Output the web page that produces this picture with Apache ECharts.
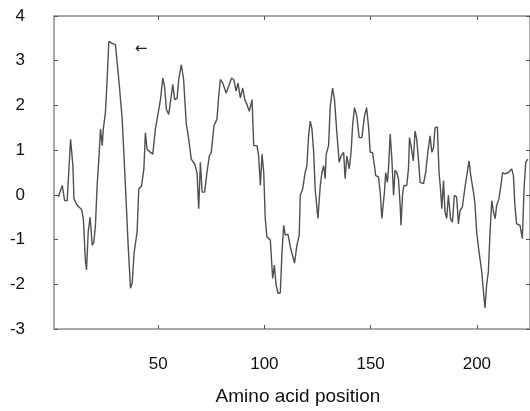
<!DOCTYPE html>
<html>
<head>
<meta charset="utf-8">
<script src="https://cdn.jsdelivr.net/npm/echarts@6/dist/echarts.min.js"></script>
<style>html,body{margin:0;padding:0;background:#fff}#c{width:530px;height:411px}</style>
</head>
<body>
<div id="c"></div>
<script>
// Amino acid positions (x) and hydropathy values (y)
const positions = [3.0,4.9,6.0,7.2,8.8,9.9,10.4,12.0,14.0,14.8,15.8,16.3,17.1,18.0,19.0,19.8,20.5,21.3,22.1,22.9,23.7,24.2,25.2,26.0,26.8,28.4,29.9,31.5,33.1,34.6,35.9,37.0,37.8,38.7,40.1,40.9,42.2,43.3,44.0,44.8,46.4,47.5,48.7,49.5,50.3,51.1,52.2,53.0,53.9,55.0,55.8,56.9,57.8,58.9,59.7,60.9,62.0,63.2,64.4,65.6,67.2,68.3,69.1,69.9,70.7,71.9,73.0,74.1,75.0,76.3,76.9,77.7,78.5,79.3,80.4,82.0,83.2,84.5,85.6,86.7,87.6,88.7,89.8,90.8,91.8,92.9,94.2,95.0,96.5,97.3,98.1,98.9,99.7,100.4,101.2,102.8,103.9,104.7,105.5,106.4,107.5,108.3,109.1,109.8,111.1,112.2,113.0,114.2,115.3,116.4,116.9,118.0,119.2,120.0,120.8,121.6,122.4,123.2,123.9,125.2,126.3,127.1,127.9,128.6,129.1,130.2,131.0,132.1,133.0,134.1,135.2,136.1,137.3,138.0,138.8,139.9,140.8,141.5,142.4,143.5,144.6,145.9,147.1,148.1,149.0,149.8,150.9,151.8,152.4,153.7,154.5,155.3,156.5,157.1,157.9,158.4,159.2,160.0,160.8,161.5,162.3,163.1,163.9,164.3,165.0,165.6,167.0,167.8,168.3,169.0,170.1,170.9,171.7,172.5,173.3,174.9,175.9,176.9,178.0,178.8,179.6,180.3,181.4,182.2,183.0,183.5,184.3,185.0,185.8,186.6,187.6,188.5,189.4,190.5,191.3,192.1,193.2,194.4,195.2,196.3,197.2,198.4,199.1,199.9,201.0,202.3,203.1,203.8,204.6,205.4,206.2,207.0,207.8,208.6,209.3,210.4,211.3,212.1,213.2,214.8,216.4,217.2,217.9,218.7,220.3,221.4,222.2,223.0,224.0];
const hydropathy = [-0.05,0.21,-0.13,-0.13,1.24,0.65,-0.09,-0.24,-0.33,-0.53,-1.49,-1.68,-0.83,-0.5,-1.13,-1.05,-0.68,0.21,0.8,1.47,1.1,1.47,1.84,2.58,3.43,3.39,3.36,2.58,1.69,0.21,-1.13,-2.09,-1.97,-1.3,-0.83,0.13,0.2,0.58,1.39,1.02,0.95,0.91,1.47,1.69,1.66,2.13,2.61,2.43,1.91,1.8,1.84,2.47,2.13,2.16,2.58,2.91,2.58,1.61,1.24,0.8,0.69,0.5,-0.31,0.73,0.06,0.06,0.51,0.87,0.95,1.55,1.61,1.69,2.21,2.58,2.5,2.28,2.43,2.61,2.58,2.32,2.5,2.17,2.39,2.13,2.02,1.87,2.13,1.1,1.1,0.87,0.21,0.91,0.5,-0.53,-0.94,-1.01,-1.87,-1.57,-2.01,-2.2,-2.19,-1.27,-0.68,-0.9,-0.88,-1.16,-1.2,-1.53,-1.13,-0.9,-0.01,0.13,0.5,0.65,1.32,1.65,1.47,0.95,0.13,-0.53,0.21,0.5,0.65,0.36,0.91,1.1,1.98,2.39,2.13,1.39,0.73,0.87,0.95,0.36,0.87,0.58,0.95,1.54,1.95,1.76,1.28,1.28,1.76,1.95,1.54,0.95,0.95,0.65,0.43,0.4,0.06,-0.53,0.06,0.5,0.28,0.58,1.36,0.8,-0.01,0.55,0.5,0.36,-0.24,-0.68,-0.01,0.21,0.21,0.58,1.28,1.1,0.76,1.43,1.24,0.8,0.28,0.25,0.5,0.95,1.32,0.95,1.06,1.5,1.52,0.5,0.06,-0.31,0.32,-0.38,-0.53,-0.01,-0.53,-0.61,-0.01,-0.05,-0.65,-0.35,-0.27,0.17,0.17,0.76,0.4,0.06,-0.2,-0.83,-1.27,-1.72,-2.16,-2.53,-2.01,-1.72,-0.83,-0.13,-0.38,-0.53,-0.24,-0.09,0.21,0.5,0.47,0.5,0.58,0.43,-0.24,-0.65,-0.68,-0.98,0.13,0.73,0.8];
const xTicks = [50, 100, 150, 200];
const yTicks = [-3, -2, -1, 0, 1, 2, 3, 4];
const xTitle = 'Amino acid position';
const arrowLabel = '←';
const arrowAt = [42, 3.26];

const points = positions.map((p, i) => [p, hydropathy[i]]);
const axisGray = '#8c8c8c';
const font = 'Liberation Sans, Arial, Helvetica, sans-serif';

const chart = echarts.init(document.getElementById('c'), null, {renderer: 'canvas'});
chart.setOption({
  animation: false,
  backgroundColor: '#fff',
  grid: {left: 54, right: 0, top: 16, bottom: 79.5, containLabel: false},
  xAxis: [{
    type: 'value', min: 1, max: 225, position: 'bottom',
    name: xTitle, nameLocation: 'middle', nameGap: 58,
    nameTextStyle: {fontFamily: font, fontSize: 19, color: '#111', padding: [0, 0, 0, 12]},
    axisLine: {show: true, onZero: false, lineStyle: {color: axisGray, width: 1.5}},
    axisTick: {show: true, inside: true, length: 4, customValues: xTicks, lineStyle: {color: '#555'}},
    axisLabel: {customValues: xTicks, margin: 27, fontFamily: font, fontSize: 17, color: '#111'},
    splitLine: {show: false}
  }, {
    type: 'value', min: 1, max: 225, position: 'top',
    axisLine: {show: true, onZero: false, lineStyle: {color: axisGray, width: 1.5}},
    axisTick: {show: true, inside: true, length: 4, customValues: xTicks, lineStyle: {color: '#555'}},
    axisLabel: {show: false},
    splitLine: {show: false}
  }],
  yAxis: [{
    type: 'value', min: -3, max: 4, interval: 1, position: 'left',
    axisLine: {show: true, onZero: false, lineStyle: {color: axisGray, width: 1.5}},
    axisTick: {show: true, inside: true, length: 4, lineStyle: {color: '#555'}},
    axisLabel: {margin: 29, fontFamily: font, fontSize: 17, color: '#111',
      formatter: v => yTicks.includes(v) ? String(v) : ''},
    splitLine: {show: false}
  }, {
    type: 'value', min: -3, max: 4, interval: 1, position: 'right',
    axisLine: {show: true, onZero: false, lineStyle: {color: axisGray, width: 1.5}},
    axisTick: {show: true, inside: true, length: 4, lineStyle: {color: '#555'}},
    axisLabel: {show: false},
    splitLine: {show: false}
  }],
  series: [{
    type: 'line',
    data: points,
    xAxisIndex: 0, yAxisIndex: 0,
    symbol: 'none',
    lineStyle: {color: '#505050', width: 1.4},
    markPoint: {
      symbol: 'circle', symbolSize: 0,
      data: [{coord: arrowAt, value: arrowLabel}],
      label: {show: true, position: 'inside', formatter: arrowLabel,
        fontFamily: 'DejaVu Sans, sans-serif', fontSize: 15, color: '#222'}
    }
  }]
});
</script>
</body>
</html>
